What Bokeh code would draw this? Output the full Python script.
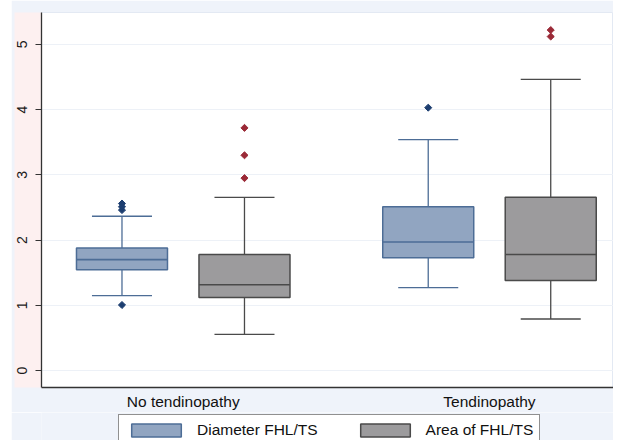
from bokeh.plotting import figure
from bokeh.layouts import column, row
from bokeh.models import FixedTicker, Legend, LegendItem, Range1d, Spacer
from bokeh.embed import file_html
from bokeh.resources import INLINE

# ---- data ----
groups = ["No tendinopathy", "Tendinopathy"]
series = ["Diameter FHL/TS", "Area of FHL/TS"]
group_centers = [1.5, 4.0]

# positions of boxes: [diam g1, area g1, diam g2, area g2]
diam_pos = [1.0, 3.5]
area_pos = [2.0, 4.5]

diam_lower = [1.15, 1.27]
diam_q1 = [1.545, 1.73]
diam_med = [1.70, 1.97]
diam_q3 = [1.88, 2.51]
diam_upper = [2.365, 3.54]

area_lower = [0.555, 0.79]
area_q1 = [1.12, 1.38]
area_med = [1.315, 1.78]
area_q3 = [1.78, 2.655]
area_upper = [2.655, 4.465]

diam_out_x = [1.0, 1.0, 1.0, 1.0, 3.5]
diam_out_y = [1.005, 2.46, 2.51, 2.56, 4.03]
area_out_x = [2.0, 2.0, 2.0, 4.5, 4.5]
area_out_y = [2.95, 3.30, 3.72, 5.12, 5.22]

y_ticks = [0, 1, 2, 3, 4, 5]

# ---- styling ----
BLUE_FILL = "#91a5c1"
BLUE_LINE = "#4d6d96"
BLUE_DOT = "#1d3e70"
GRAY_FILL = "#9c9b9d"
GRAY_LINE = "#4a4a4a"
RED_DOT = "#9b2a37"
OUTER = "#eff3fa"
FONT = "Liberation Sans"

BOX_W = 0.743
CAP_W = 0.49

p = figure(width=602, height=412, output_backend="svg", toolbar_location=None,
           x_range=Range1d(0.343, 5.0124), y_range=Range1d(-0.26, 5.489),
           min_border_left=30, min_border_right=0, min_border_top=12,
           min_border_bottom=24)
p.background_fill_color = "white"
p.border_fill_color = OUTER
p.outline_line_color = "#e3e9f3"
p.outline_line_width = 1

p.xgrid.visible = False
p.ygrid.ticker = FixedTicker(ticks=y_ticks)
p.ygrid.grid_line_color = "#edf1f7"
p.ygrid.grid_line_width = 1

# y axis
p.yaxis.ticker = FixedTicker(ticks=y_ticks)
p.yaxis.major_label_orientation = "vertical"
p.yaxis.major_label_text_font = FONT
p.yaxis.major_label_text_font_size = "14px"
p.yaxis.major_label_text_color = "#1a1a1a"
p.yaxis.major_tick_out = 6
p.yaxis.major_tick_in = 0
p.yaxis.minor_tick_line_color = None
p.yaxis.major_label_standoff = 8
p.yaxis.axis_line_color = "#333333"
p.yaxis.axis_line_width = 1.3
p.yaxis.major_tick_line_color = "#333333"
p.yaxis.background_fill_color = "#fdf0f0"

# x axis
p.xaxis.ticker = FixedTicker(ticks=group_centers)
p.xaxis.major_label_overrides = {group_centers[0]: groups[0], group_centers[1]: groups[1]}
p.xaxis.major_label_text_font = FONT
p.xaxis.major_label_text_font_size = "15.5px"
p.xaxis.major_label_text_color = "#111111"
p.xaxis.major_tick_line_color = None
p.xaxis.major_tick_out = 0
p.xaxis.major_tick_in = 0
p.xaxis.minor_tick_line_color = None
p.xaxis.major_label_standoff = 5
p.xaxis.axis_line_color = "#333333"
p.xaxis.axis_line_width = 1.3

def draw(fig, pos, lower, q1, med, q3, upper, fill, line):
    fig.segment(x0=pos, y0=q3, x1=pos, y1=upper, line_color=line, line_width=1.3)
    fig.segment(x0=pos, y0=lower, x1=pos, y1=q1, line_color=line, line_width=1.3)
    x0 = [x - CAP_W / 2 for x in pos]
    x1 = [x + CAP_W / 2 for x in pos]
    fig.segment(x0=x0, y0=upper, x1=x1, y1=upper, line_color=line, line_width=1.3)
    fig.segment(x0=x0, y0=lower, x1=x1, y1=lower, line_color=line, line_width=1.3)
    fig.vbar(x=pos, width=BOX_W, bottom=q1, top=q3, fill_color=fill,
             line_color=line, line_width=1.5)
    bx0 = [x - BOX_W / 2 for x in pos]
    bx1 = [x + BOX_W / 2 for x in pos]
    fig.segment(x0=bx0, y0=med, x1=bx1, y1=med, line_color=line, line_width=1.6)

draw(p, diam_pos, diam_lower, diam_q1, diam_med, diam_q3, diam_upper, BLUE_FILL, BLUE_LINE)
draw(p, area_pos, area_lower, area_q1, area_med, area_q3, area_upper, GRAY_FILL, GRAY_LINE)

p.scatter(x=diam_out_x, y=diam_out_y, marker="square", angle=0.785398, size=5,
          fill_color=BLUE_DOT, line_color=BLUE_DOT)
p.scatter(x=area_out_x, y=area_out_y, marker="square", angle=0.785398, size=5,
          fill_color=RED_DOT, line_color=RED_DOT)

# ---- legend strip (cut at the bottom, as in the original) ----
q = figure(width=602, height=28, output_backend="svg", toolbar_location=None,
           x_range=Range1d(0, 1), y_range=Range1d(0, 1),
           min_border=0)
q.axis.visible = False
q.grid.visible = False
q.outline_line_color = None
q.background_fill_color = OUTER
q.border_fill_color = OUTER
lg_diam = q.vbar(x=diam_pos, width=BOX_W, bottom=diam_q1, top=diam_q3,
                 fill_color=BLUE_FILL, line_color=BLUE_LINE, line_width=1.5,
                 visible=False)
lg_area = q.vbar(x=area_pos, width=BOX_W, bottom=area_q1, top=area_q3,
                 fill_color=GRAY_FILL, line_color=GRAY_LINE, line_width=1.5,
                 visible=False)

legend = Legend(items=[LegendItem(label=series[0], renderers=[lg_diam]),
                       LegendItem(label=series[1], renderers=[lg_area])],
                orientation="horizontal", location=(77, -6))
legend.label_text_font = FONT
legend.label_text_font_size = "15.5px"
legend.label_text_color = "#111111"
legend.glyph_width = 62
legend.glyph_height = 16
legend.label_height = 16
legend.label_standoff = 10
legend.spacing = 36
legend.padding = 6
legend.margin = 0
legend.border_line_color = "#222222"
legend.border_line_width = 1
legend.background_fill_color = "white"
legend.background_fill_alpha = 1
legend.inactive_fill_alpha = 0
legend.click_policy = "none"
q.add_layout(legend, "center")

layout = row(Spacer(width=11, height=440), column(p, q, spacing=0), spacing=0)
open("out.html", "w").write(file_html(layout, INLINE))
